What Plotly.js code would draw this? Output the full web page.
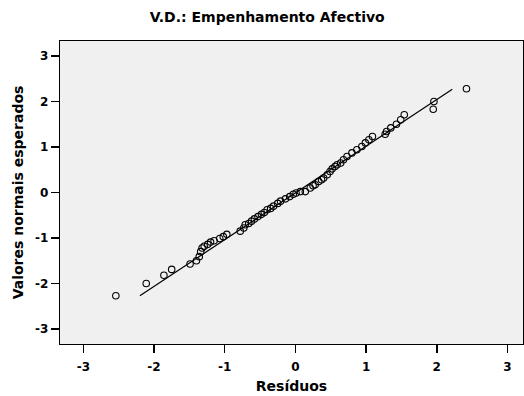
<!DOCTYPE html>
<html>
<head>
<meta charset="utf-8">
<script src="https://cdn.plot.ly/plotly-3.0.1.min.js"></script>
<style>html,body{margin:0;padding:0;background:#fff;}#chart{width:524px;height:396px;}</style>
</head>
<body>
<div id="chart"></div>
<script>
var residuos = [-2.54,-2.11,-1.86,-1.75,-1.49,-1.40,-1.36,-1.34,-1.32,-1.29,-1.24,-1.20,-1.15,-1.07,-1.02,-0.97,
  -0.78,-0.73,-0.71,-0.66,-0.62,-0.58,-0.53,-0.48,-0.44,-0.40,-0.35,-0.31,-0.25,-0.21,-0.14,-0.08,-0.03,
  0.01,0.07,0.14,0.21,0.25,0.28,0.33,0.37,0.40,0.45,0.49,0.52,0.56,0.59,0.64,0.68,0.73,0.80,0.87,0.94,0.99,
  1.04,1.09,1.27,1.29,1.35,1.43,1.49,1.54,1.95,1.96,2.42];
var esperados = [-2.27,-2.00,-1.82,-1.69,-1.57,-1.50,-1.41,-1.30,-1.22,-1.18,-1.14,-1.09,-1.06,-1.01,-0.97,-0.92,
  -0.85,-0.78,-0.71,-0.68,-0.63,-0.58,-0.53,-0.48,-0.44,-0.38,-0.35,-0.30,-0.24,-0.19,-0.14,-0.09,-0.04,
  -0.01,0.02,0.02,0.10,0.15,0.17,0.24,0.28,0.32,0.39,0.46,0.52,0.57,0.61,0.65,0.72,0.79,0.87,0.94,1.01,1.09,
  1.16,1.23,1.28,1.34,1.42,1.50,1.60,1.71,1.83,2.00,2.28];
// Reference line end points
var lineX = [-2.20, 2.22];
var lineY = [-2.27, 2.27];
var tickVals = [-3,-2,-1,0,1,2,3];
var tickText = ['-3','-2','-1','0','1','2','3'];

var fontFam = 'DejaVu Sans, Verdana, sans-serif';
var traces = [
  {x: lineX, y: lineY, mode: 'lines', type: 'scatter', line: {color: '#000', width: 1.2}, hoverinfo: 'skip'},
  {x: residuos, y: esperados, mode: 'markers', type: 'scatter',
   marker: {symbol: 'circle-open', size: 6.5, color: '#000', line: {color: '#000', width: 1.1}}}
];
var axisBase = {
  showgrid: false, zeroline: false, showline: true, mirror: true, linecolor: '#000', linewidth: 1.2,
  ticks: 'outside', ticklen: 8, tickwidth: 1.5, tickcolor: '#000',
  tickmode: 'array', tickvals: tickVals, ticktext: tickText,
  tickfont: {family: fontFam, size: 12, color: '#000', weight: 'bold'}
};
var layout = {
  width: 524, height: 396,
  margin: {l: 60, r: 1, t: 41, b: 52},
  paper_bgcolor: '#fff', plot_bgcolor: '#f0f0f0',
  showlegend: false,
  title: {text: 'V.D.: Empenhamento Afectivo', x: 0.51, xanchor: 'center', y: 0.957, yanchor: 'middle',
          font: {family: fontFam, size: 14, color: '#000', weight: 'bold'}},
  xaxis: Object.assign({}, axisBase, {range: [-3.33, 3.22], ticklabelstandoff: 3,
          title: {text: 'Resíduos', standoff: 8, font: {family: fontFam, size: 14, color: '#000', weight: 'bold'}}}),
  yaxis: Object.assign({}, axisBase, {range: [-3.33, 3.33],
          title: {text: 'Valores normais esperados', standoff: 8, font: {family: fontFam, size: 14, color: '#000', weight: 'bold'}}})
};
Plotly.newPlot('chart', traces, layout, {staticPlot: true, displayModeBar: false});
</script>
</body>
</html>
